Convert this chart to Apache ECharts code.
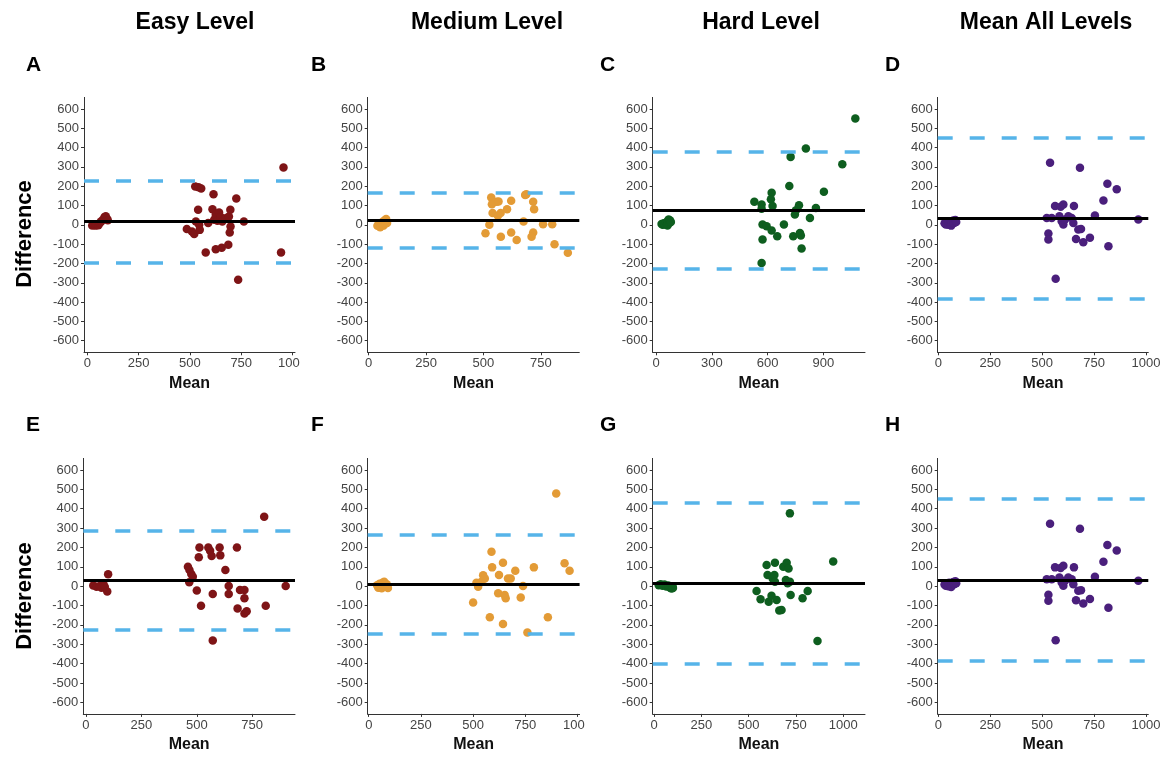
<!DOCTYPE html>
<html>
<head>
<meta charset="utf-8">
<script src="https://cdn.jsdelivr.net/npm/echarts@6/dist/echarts.min.js"></script>
<style>
  html, body { margin: 0; padding: 0; background: #fff; }
  #figure { position: relative; width: 1170px; height: 757px; overflow: hidden; background: #fff; }
  .cell { position: absolute; overflow: hidden; }
</style>
</head>
<body>
<div id="figure"></div>
<script>
// ---------------- Data: [mean, difference] pairs per panel ----------------
const easyA = [
  [24,-3],[32,1],[40,-4],[47,2],[54,-2],[61,9],[68,18],[76,26],[84,40],[90,44],[96,32],[100,24],
  [485,-22],[510,-34],[521,-47],[548,-26],[529,17],[545,0],[540,78],[526,198],[542,195],[555,188],
  [589,9],[610,81],[615,159],[618,26],[626,52],[634,21],[642,64],[650,40],[658,17],[674,34],
  [690,43],[697,78],[698,-9],[694,-40],[726,136],[763,17],
  [577,-143],[626,-126],[655,-119],[687,-103],[735,-284],[956,297],[944,-143]
];
const mediumB = [
  [38,-5],[44,8],[50,-12],[55,3],[60,15],[64,-4],[68,22],[72,6],[76,30],[80,10],
  [509,-43],[526,0],[534,142],[537,107],[540,61],[558,120],[566,121],[563,47],[575,61],[576,-62],
  [603,81],[621,125],[621,-40],[645,-78],[675,17],[682,154],[687,159],[717,120],[721,81],
  [717,-40],[710,-62],[760,3],[800,3],[810,-100],[868,-144]
];
const hardC = [
  [30,5],[36,0],[42,8],[48,2],[54,12],[60,4],[62,-3],[64,20],[68,28],[72,10],[76,22],[80,15],
  [529,120],[568,106],[568,83],[622,166],[618,132],[627,97],[573,2],[595,-7],[622,-29],[573,-76],
  [568,-198],[652,-59],[688,2],[717,201],[724,352],[738,-59],[747,54],[753,75],[769,102],
  [774,-42],[779,-55],[783,-123],[806,395],[828,36],[860,87],[903,172],[1002,314],[1072,551]
];
const allLevels = [
  [30,8],[36,2],[42,12],[48,0],[52,18],[58,6],[62,-4],[66,14],[72,22],[76,10],[82,25],[86,15],
  [538,322],[522,36],[546,36],[530,-45],[530,-76],[562,97],[589,94],[583,45],[594,19],[602,2],
  [610,28],[602,106],[626,45],[642,36],[653,97],[650,10],[663,-73],[674,-24],[687,-21],[698,-90],
  [682,296],[730,-67],[754,48],[795,126],[814,213],[819,-111],[859,184],[963,28],[565,-279]
];
const easyE = [
  [33,3],[48,-3],[63,1],[70,-8],[78,15],[85,-3],[96,-28],[100,61],
  [460,100],[467,84],[475,63],[482,49],[466,20],[500,-23],[512,200],[509,149],[519,-101],
  [552,200],[560,183],[567,156],[572,-40],[572,-281],[603,200],[606,159],[629,84],[644,1],
  [644,-40],[681,200],[684,-116],[695,-20],[715,-20],[715,-63],[715,-141],[725,-130],
  [804,359],[811,-101],[901,1]
];
const mediumF = [
  [40,5],[46,-8],[52,12],[58,0],[62,-11],[66,18],[70,6],[74,23],[80,-2],[86,10],[92,-10],
  [500,-85],[516,18],[524,-3],[540,23],[548,56],[556,40],[580,-161],[588,178],[591,97],
  [620,-37],[624,58],[643,121],[643,-196],[651,-46],[656,-63],[667,40],[680,40],[702,80],
  [728,-59],[739,1],[760,-240],[791,97],[858,-161],[898,479],[938,118],[962,80]
];
const hardG = [
  [25,5],[35,10],[45,2],[55,8],[65,-2],[75,4],[85,-8],[92,-12],[98,0],[100,-10],
  [542,-25],[563,-68],[595,109],[600,57],[606,-80],[621,-49],[627,40],[636,57],[639,23],
  [639,121],[648,-72],[662,-126],[674,-123],[683,100],[701,121],[697,32],[711,91],[706,15],
  [718,376],[718,23],[722,-46],[785,-63],[812,-25],[864,-283],[947,127]
];

// Bias (mean difference) and limits of agreement, panels A..H
const biasValues  = [17, 23, 75, 33, 32, 8, 14, 33];
const upperLimits = [229, 166, 378, 450, 287, 264, 431, 450];
const lowerLimits = [-195, -120, -228, -385, -223, -247, -402, -385];

// Tick labels
const yTicks = [-600,-500,-400,-300,-200,-100,0,100,200,300,400,500,600];
const xTicks250 = [0, 250, 500, 750, 1000];
const xTicks250Short = [0, 250, 500, 750];
const xTicks300 = [0, 300, 600, 900];

const columnTitles = ['Easy Level', 'Medium Level', 'Hard Level', 'Mean All Levels'];
const panelLetters = ['A','B','C','D','E','F','G','H'];

// ---------------- Layout ----------------
const FONT = '"Liberation Sans", Arial, Helvetica, sans-serif';
const columns = [
  { left: 0,   width: 300 },
  { left: 300, width: 285 },
  { left: 585, width: 290 },
  { left: 875, width: 295 }
];
const rows = [
  { top: 0,   height: 392, gridTop: 97.4,  gridHeight: 254.9, letterY: 65 },
  { top: 392, height: 365, gridTop: 458.4, gridHeight: 255.5, letterY: 425 }
];
const letterX = [26, 311, 600, 885];
const titleX = [195, 487, 761, 1046];

const panels = [
  { data: easyA,     color: '#7E1416', col: 0, row: 0, left: 84,    right: 295,   xMin: -16,  xMax: 1012, ticks: xTicks250 },
  { data: mediumB,   color: '#E39B36', col: 1, row: 0, left: 367.7, right: 579.3, xMin: -4.4, xMax: 918,  ticks: xTicks250Short },
  { data: hardC,     color: '#0E5E1F', col: 2, row: 0, left: 652.7, right: 865,   xMin: -17.7,xMax: 1124, ticks: xTicks300 },
  { data: allLevels, color: '#4A1F7C', col: 3, row: 0, left: 937.7, right: 1148.3,xMin: -3,   xMax: 1011, ticks: xTicks250 },
  { data: easyE,     color: '#7E1416', col: 0, row: 1, left: 83.3,  right: 295,   xMin: -12,  xMax: 943,  ticks: xTicks250Short },
  { data: mediumF,   color: '#E39B36', col: 1, row: 1, left: 367.7, right: 579.6, xMin: -5,   xMax: 1010, ticks: xTicks250 },
  { data: hardG,     color: '#0E5E1F', col: 2, row: 1, left: 652.7, right: 865,   xMin: -7,   xMax: 1115, ticks: xTicks250 },
  { data: allLevels, color: '#4A1F7C', col: 3, row: 1, left: 937.7, right: 1148.3,xMin: -3,   xMax: 1011, ticks: xTicks250 }
];

const axisLineStyle = { color: '#333333', width: 1 };
const tickLabelStyle = { color: '#444444', fontSize: 13, fontFamily: FONT, formatter: function (v) { return String(v); } };

function textEl(x, y, text, size, opts) {
  return Object.assign({
    type: 'text', x: x, y: y, silent: true,
    style: {
      text: text, fill: '#000', fontSize: size, fontWeight: 'bold', fontFamily: FONT,
      textAlign: 'center', align: 'center', textVerticalAlign: 'middle', verticalAlign: 'middle'
    }
  }, opts || {});
}

function buildOption(p, i) {
  const col = columns[p.col], row = rows[p.row];
  const graphics = [];
  graphics.push(textEl(letterX[p.col] - col.left, row.letterY - row.top, panelLetters[i], 21,
    { style: { text: panelLetters[i], fill: '#000', fontSize: 21, fontWeight: 'bold', fontFamily: FONT,
               textAlign: 'left', align: 'left', textVerticalAlign: 'middle', verticalAlign: 'middle' } }));
  if (p.row === 0) {
    graphics.push(textEl(titleX[p.col] - col.left, 23, columnTitles[p.col], 23));
  }
  if (p.col === 0) {
    const cy = (p.row === 0 ? 234 : 596) - row.top;
    graphics.push(textEl(25, cy, 'Difference', 22, { rotation: Math.PI / 2 }));
  }
  const dashed = { color: '#56B4E9', width: 3.5, type: [15, 17] };
  return {
    animation: false,
    backgroundColor: '#fff',
    grid: {
      left: p.left - col.left, top: row.gridTop - row.top,
      width: p.right - p.left, height: row.gridHeight,
      containLabel: false, outerBoundsMode: 'none'
    },
    xAxis: {
      type: 'value', min: p.xMin, max: p.xMax,
      axisLine: { show: true, onZero: false, lineStyle: axisLineStyle },
      axisTick: { show: true, length: 3, customValues: p.ticks, lineStyle: axisLineStyle },
      axisLabel: Object.assign({ customValues: p.ticks, margin: 5 }, tickLabelStyle),
      splitLine: { show: false },
      name: 'Mean', nameLocation: 'middle', nameGap: 22,
      nameTextStyle: { fontWeight: 'bold', fontSize: 16, color: '#111', fontFamily: FONT }
    },
    yAxis: {
      type: 'value', min: -660, max: 660,
      axisLine: { show: true, onZero: false, lineStyle: axisLineStyle },
      axisTick: { show: true, length: 3, customValues: yTicks, lineStyle: axisLineStyle },
      axisLabel: Object.assign({ customValues: yTicks, margin: 5 }, tickLabelStyle),
      splitLine: { show: false }
    },
    graphic: graphics,
    series: [
      {
        type: 'scatter', data: p.data, symbol: 'circle', symbolSize: 8.5, z: 2,
        itemStyle: { color: p.color, opacity: 1 }, emphasis: { disabled: true }, silent: true
      },
      {
        type: 'scatter', data: [], z: 4, silent: true,
        markLine: {
          silent: true, symbol: ['none', 'none'], animation: false, label: { show: false },
          emphasis: { disabled: true },
          data: [
            { yAxis: upperLimits[i], lineStyle: dashed },
            { yAxis: lowerLimits[i], lineStyle: dashed },
            { yAxis: biasValues[i], lineStyle: { color: '#000', width: 3, type: 'solid' } }
          ]
        }
      }
    ]
  };
}

const figure = document.getElementById('figure');
panels.forEach(function (p, i) {
  const col = columns[p.col], row = rows[p.row];
  const div = document.createElement('div');
  div.className = 'cell';
  div.style.left = col.left + 'px';
  div.style.top = row.top + 'px';
  div.style.width = col.width + 'px';
  div.style.height = row.height + 'px';
  figure.appendChild(div);
  const chart = echarts.init(div, null, { renderer: 'canvas' });
  chart.setOption(buildOption(p, i));
});
</script>
</body>
</html>
